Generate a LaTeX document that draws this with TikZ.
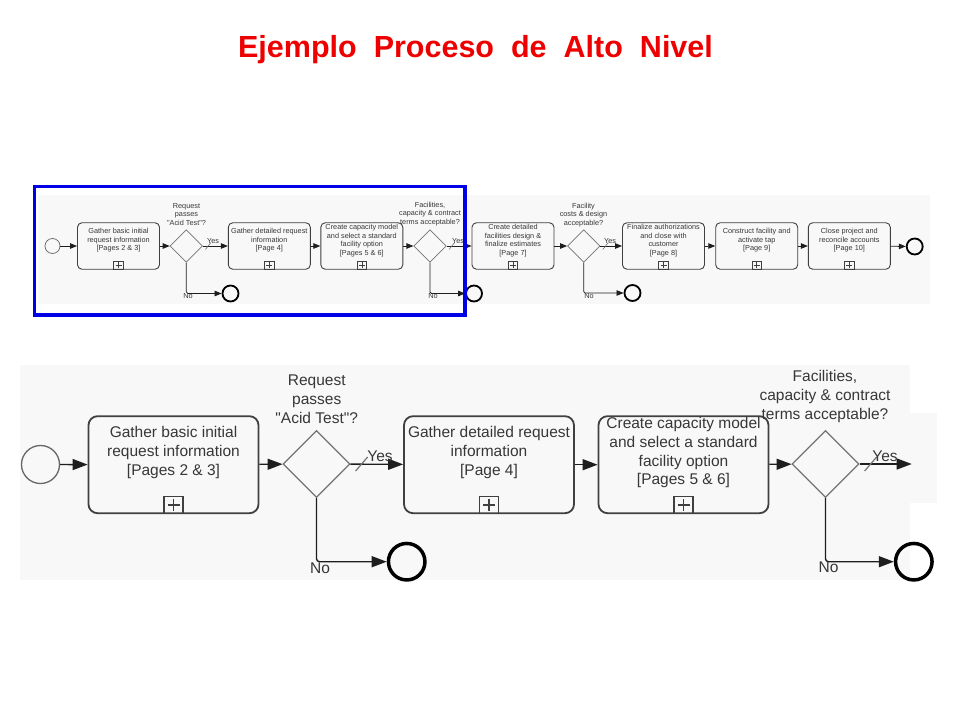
\documentclass[tikz,border=0pt]{standalone}
\usepackage{fontspec}
\setmainfont{Liberation Sans}
\usetikzlibrary{shapes.geometric,arrows.meta}

\definecolor{panelbg}{RGB}{248,248,248}
\definecolor{taskline}{RGB}{64,64,64}
\definecolor{txt}{RGB}{55,55,55}
\definecolor{dline}{RGB}{115,115,115}
\definecolor{flow}{RGB}{30,30,30}
\definecolor{titlered}{RGB}{238,0,0}
\definecolor{frameblue}{RGB}{0,0,230}

\begin{document}
\begin{tikzpicture}[x=1pt,y=-1pt,
  % ---------- bottom (zoomed) styles ----------
  btask/.style={draw=taskline, line width=1.8pt, rounded corners=9pt,
    minimum width=170pt, minimum height=97pt, inner sep=0pt},
  btext/.style={text=txt, font=\fontsize{15.5}{18.8}\selectfont, align=center, inner sep=0pt},
  bplus/.style={draw=taskline, line width=1.2pt, minimum width=19pt, minimum height=17pt,
    inner sep=0pt, anchor=south,
    path picture={\draw[taskline, line width=1.2pt]
      ([xshift=-6pt]path picture bounding box.center) -- ([xshift=6pt]path picture bounding box.center)
      ([yshift=-6pt]path picture bounding box.center) -- ([yshift=6pt]path picture bounding box.center);}},
  bdia/.style={diamond, draw=dline, line width=1.2pt, minimum width=67pt, minimum height=67pt, inner sep=0pt},
  bstartev/.style={circle, draw=taskline!80, line width=1.3pt, minimum size=38pt, inner sep=0pt},
  bendev/.style={circle, draw=black, line width=3.5pt, minimum size=36.5pt, inner sep=0pt},
  bflow/.style={draw=flow, line width=1.4pt, -{Triangle[length=15pt,width=11pt]}},
  bslash/.style={draw=dline, line width=1.2pt},
  % ---------- top (overview) styles ----------
  ttask/.style={draw=taskline, line width=0.9pt, rounded corners=4.5pt,
    minimum width=82pt, minimum height=46.5pt, inner sep=0pt},
  ttext/.style={text=txt, font=\fontsize{7.3}{8.5}\selectfont, align=center, inner sep=0pt},
  tplus/.style={draw=taskline, line width=0.6pt, minimum width=9.5pt, minimum height=8.5pt,
    inner sep=0pt, anchor=south,
    path picture={\draw[taskline, line width=0.6pt]
      ([xshift=-3pt]path picture bounding box.center) -- ([xshift=3pt]path picture bounding box.center)
      ([yshift=-3pt]path picture bounding box.center) -- ([yshift=3pt]path picture bounding box.center);}},
  tdia/.style={diamond, draw=dline, line width=0.7pt, minimum width=32.5pt, minimum height=32.5pt, inner sep=0pt},
  tstartev/.style={circle, draw=taskline!80, line width=0.7pt, minimum size=15pt, inner sep=0pt},
  tendev/.style={circle, draw=black, line width=1.8pt, minimum size=16pt, inner sep=0pt},
  tflow/.style={draw=flow, line width=0.75pt, -{Triangle[length=7pt,width=5.5pt]}},
  tslash/.style={draw=dline, line width=0.6pt},
  tlabel/.style={text=txt, font=\fontsize{7.3}{8.5}\selectfont, inner sep=0pt},
  blabel/.style={text=txt, font=\fontsize{15.5}{18.8}\selectfont, inner sep=0pt},
]
\useasboundingbox (0,0) rectangle (960,720);
\fill[white] (0,0) rectangle (960,720);

% ---------- title ----------
\node[anchor=base, inner sep=0pt, text=titlered,
  font=\fontsize{30.5}{35}\selectfont\bfseries] (title) at (475.5,57)
  {Ejemplo\hspace{17pt}Proceso\hspace{17pt}de\hspace{17pt}Alto\hspace{17pt}Nivel};

% ---------- panel backgrounds ----------
\fill[panelbg] (38,195) rectangle (930,304);
\fill[panelbg] (20,365) rectangle (910,580);
\fill[panelbg] (910,413) rectangle (937,503);

% ================= TOP OVERVIEW =================
\node[tstartev] (ts) at (52.5,246) {};
\node[ttask] (tt1) at (118.5,246) {};
\node[ttask] (tt2) at (269.3,246) {};
\node[ttask] (tt3) at (361.8,246) {};
\node[ttask] (tt4) at (513,246) {};
\node[ttask] (tt5) at (663.5,246) {};
\node[ttask] (tt6) at (756.7,246) {};
\node[ttask] (tt7) at (849.3,246) {};
\node[tdia] (td1) at (186.3,246) {};
\node[tdia] (td2) at (430,246) {};
\node[tdia] (td3) at (583.7,246) {};
\node[tendev] (te1) at (230.5,293.5) {};
\node[tendev] (te2) at (474,293.5) {};
\node[tendev] (te3) at (632.5,293) {};
\node[tendev] (te4) at (914.7,246.5) {};

\node[ttext] (tt1x) at ([yshift=5.5pt]tt1.center) {Gather basic initial\\request information\\{}[Pages 2 \& 3]};
\node[ttext] (tt2x) at ([yshift=5.5pt]tt2.center) {Gather detailed request\\information\\{}[Page 4]};
\node[ttext] (tt3x) at ([yshift=5.5pt]tt3.center) {Create capacity model\\and select a standard\\facility option\\{}[Pages 5 \& 6]};
\node[ttext] (tt4x) at ([yshift=5.5pt]tt4.center) {Create detailed\\facilities design \&\\finalize estimates\\{}[Page 7]};
\node[ttext] (tt5x) at ([yshift=5.5pt]tt5.center) {Finalize authorizations\\and close with\\customer\\{}[Page 8]};
\node[ttext] (tt6x) at ([yshift=5.5pt]tt6.center) {Construct facility and\\activate tap\\{}[Page 9]};
\node[ttext] (tt7x) at ([yshift=5.5pt]tt7.center) {Close project and\\reconcile accounts\\{}[Page 10]};
\foreach \t in {tt1,tt2,tt3,tt4,tt5,tt6,tt7}{\node[tplus] (\t p) at (\t.south) {};}

\node[ttext] (tq1) at (186.5,214.5) {Request\\passes\\\textquotedbl Acid Test\textquotedbl ?};
\node[ttext] (tq2) at (430,214) {Facilities,\\capacity \& contract\\terms acceptable?};
\node[ttext] (tq3) at (583.5,215) {Facility\\costs \& design\\acceptable?};

\draw[tflow] (ts) -- (tt1);
\draw[tflow] (tt1) -- (td1);
\draw[tflow] (td1) -- (tt2);
\draw[tflow] (tt2) -- (tt3);
\draw[tflow] (tt3) -- (td2);
\draw[tflow] (td2) -- (tt4);
\draw[tflow] (tt4) -- (td3);
\draw[tflow] (td3) -- (tt5);
\draw[tflow] (tt5) -- (tt6);
\draw[tflow] (tt6) -- (tt7);
\draw[tflow] (tt7) -- (te4);
\draw[tflow, rounded corners=1.5pt] (td1.south) |- (te1);
\draw[tflow, rounded corners=1.5pt] (td2.south) |- (te2);
\draw[tflow, rounded corners=1.5pt] (td3.south) |- (te3);
\foreach \d in {td1,td2,td3}{
  \draw[tslash] ([xshift=2.5pt,yshift=-3.5pt]\d.east) -- ([xshift=8pt,yshift=3.5pt]\d.east);}
\node[tlabel] (ty1) at (213,241.5) {Yes};
\node[tlabel] (ty2) at (458,241.5) {Yes};
\node[tlabel] (ty3) at (610,241.5) {Yes};
\node[tlabel] (tn1) at (188,296) {No};
\node[tlabel] (tn2) at (433,296) {No};
\node[tlabel] (tn3) at (589,296.5) {No};

% highlight frame
\draw[frameblue, line width=3.5pt] (34.5,186.5) rectangle (465,315);

% ================= BOTTOM ZOOM =================
\node[bstartev] (bs) at (40.5,464.5) {};
\node[btask] (bt1) at (173.5,464.7) {};
\node[btask] (bt2) at (489,464.7) {};
\node[btask] (bt3) at (683.5,464.7) {};
\node[bdia] (bd1) at (316.5,464) {};
\node[bdia] (bd2) at (825.5,464) {};
\node[bendev] (be1) at (406.7,561.7) {};
\node[bendev] (be2) at (913.8,561.7) {};
\coordinate (bout) at (911.7,464);

\node[btext] (bt1x) at ([yshift=12pt]bt1.center) {Gather basic initial\\request information\\{}[Pages 2 \& 3]};
\node[btext] (bt2x) at ([yshift=12pt]bt2.center) {Gather detailed request\\information\\{}[Page 4]};
\node[btext] (bt3x) at ([yshift=12pt]bt3.center) {Create capacity model\\and select a standard\\facility option\\{}[Pages 5 \& 6]};
\foreach \t in {bt1,bt2,bt3}{\node[bplus] (\t p) at (\t.south) {};}

\node[btext] (bq1) at (316.7,399) {Request\\passes\\\textquotedbl Acid Test\textquotedbl ?};
\node[btext] (bq2) at (825,396.5) {Facilities,\\capacity \& contract\\terms acceptable?};

\draw[bflow] (bs) -- (bt1);
\draw[bflow] (bt1) -- (bd1);
\draw[bflow] (bd1) -- (bt2);
\draw[bflow] (bt2) -- (bt3);
\draw[bflow] (bt3) -- (bd2);
\draw[bflow] (bd2) -- (bout);
\draw[bflow, rounded corners=3pt] (bd1.south) |- (be1);
\draw[bflow, rounded corners=3pt] (bd2.south) |- (be2);
\foreach \d in {bd1,bd2}{
  \draw[bslash] ([xshift=5pt,yshift=-7pt]\d.east) -- ([xshift=17pt,yshift=7pt]\d.east);}
\node[blabel] (by1) at (380,456.5) {Yes};
\node[blabel] (by2) at (885,456.5) {Yes};
\node[blabel] (bn1) at (320,568) {No};
\node[blabel] (bn2) at (828.5,567) {No};
\end{tikzpicture}
\end{document}
